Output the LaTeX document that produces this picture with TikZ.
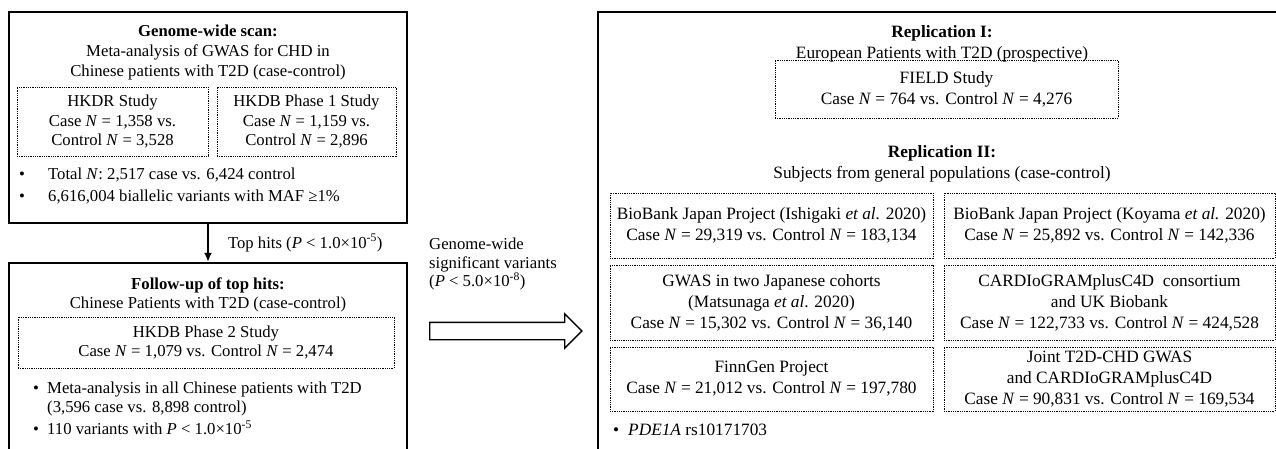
\documentclass[tikz,border=0pt]{standalone}
\usepackage{fontspec}
\setmainfont{Liberation Serif}
\usetikzlibrary{arrows.meta}
\usetikzlibrary{shapes,shapes.arrows}

\begin{document}
\begin{tikzpicture}
  [x=1pt,y=-1pt,
  outerbox/.style={draw=black,line width=2.4pt,inner sep=0pt},
  dotbox/.style={draw=black,line width=0.9pt,dash pattern=on 0.9pt off 0.9pt,inner sep=0pt},
  lefttext/.style={font=\fontsize{16.7}{19.7}\selectfont,align=center,inner sep=0pt},
  righttext/.style={font=\fontsize{17.3}{21}\selectfont,align=center,inner sep=0pt},
  bulletline/.style={anchor=west,inner sep=0pt,align=left}]
  \useasboundingbox (0,0) rectangle (1276,449);

  % left: genome-wide scan
  \node[outerbox,minimum width=398,minimum height=211] (scan) at (208,117.5) {};
  \node[lefttext] (t11) at (208,52.5) {\textbf{Genome-wide scan:}\\Meta-analysis of GWAS for CHD in\\Chinese patients with T2D (case-control)};
  \node[dotbox,lefttext,minimum width=191,minimum height=69] (hkdr) at (112.5,121.5) {HKDR Study\\Case \textit{N} = 1,358 vs.\\Control \textit{N} = 3,528};
  \node[dotbox,lefttext,minimum width=179,minimum height=69] (hkdb1) at (306.5,121.5) {HKDB Phase 1 Study\\Case \textit{N} = 1,159 vs.\\Control \textit{N} = 2,896};
  \node[lefttext,bulletline] (b11) at (19,175) {\makebox[29pt][l]{•}Total \textit{N}: 2,517 case vs. 6,424 control};
  \node[lefttext,bulletline] (b12) at (19,197) {\makebox[29pt][l]{•}6,616,004 biallelic variants with MAF ≥1\%};

  % left: follow-up
  \node[outerbox,minimum width=398,minimum height=207] (follow) at (208,366.5) {};
  \node[lefttext] (t21) at (208,295) {\textbf{Follow-up of top hits:}\\Chinese Patients with T2D (case-control)};
  \node[dotbox,lefttext,minimum width=376,minimum height=51] (hkdb2) at (206,342.5) {HKDB Phase 2 Study\\Case \textit{N} = 1,079 vs. Control \textit{N} = 2,474};
  \node[lefttext,bulletline] (b21) at (33,399) {\makebox[14pt][l]{•}Meta-analysis in all Chinese patients with T2D\\\hspace*{14pt}(3,596 case vs. 8,898 control)};
  \node[lefttext,bulletline] (b22) at (33,428) {\makebox[14pt][l]{•}110 variants with \textit{P} < 1.0×10\textsuperscript{-5}};

  \draw[-{Latex[length=9pt,width=8pt]},line width=2pt] (scan.south) -- node[lefttext,right=19pt] {Top hits (\textit{P} < 1.0×10\textsuperscript{-5})} (follow.north);

  % middle
  \node[lefttext,align=left,anchor=west,font=\fontsize{16.7}{18.5}\selectfont] (sig) at (429,264) {Genome-wide\\significant variants\\(\textit{P} < 5.0×10\textsuperscript{-8})};
  \node[draw,single arrow,line width=1.3pt,minimum height=152pt,inner xsep=0pt,inner ysep=8pt,single arrow head extend=8.5pt] (bigarrow) at (501.5,331) {};

  % right: replication
  \node[outerbox,minimum width=692,minimum height=458] (repl) at (944,241) {};
  \node[righttext] (t31) at (942,44) {\textbf{Replication I:}\\European Patients with T2D (prospective)};
  \node[dotbox,righttext,minimum width=343,minimum height=58] (field) at (946.5,89) {FIELD Study\\Case \textit{N} = 764 vs. Control \textit{N} = 4,276};
  \node[righttext] (t32) at (942,163.5) {\textbf{Replication II:}\\Subjects from general populations (case-control)};

  \node[dotbox,righttext,minimum width=323,minimum height=65] (bbj1) at (771.5,225.5) {BioBank Japan Project (Ishigaki \textit{et al.} 2020)\\Case \textit{N} = 29,319 vs. Control \textit{N} = 183,134};
  \node[dotbox,righttext,minimum width=331,minimum height=65] (bbj2) at (1109.5,225.5) {BioBank Japan Project (Koyama \textit{et al.} 2020)\\Case \textit{N} = 25,892 vs. Control \textit{N} = 142,336};
  \node[dotbox,righttext,minimum width=323,minimum height=75] (jpn) at (771.5,302.5) {GWAS in two Japanese cohorts\\(Matsunaga \textit{et al}. 2020)\\Case \textit{N} = 15,302 vs. Control \textit{N} = 36,140};
  \node[dotbox,righttext,minimum width=331,minimum height=75] (cardio) at (1109.5,302.5) {CARDIoGRAMplusC4D\ \ consortium\\and UK Biobank\\Case \textit{N} = 122,733 vs. Control \textit{N} = 424,528};
  \node[dotbox,righttext,minimum width=323,minimum height=64] (finn) at (771.5,379) {FinnGen Project\\Case \textit{N} = 21,012 vs. Control \textit{N} = 197,780};
  \node[dotbox,righttext,minimum width=331,minimum height=64] (joint) at (1109.5,379) {Joint T2D-CHD GWAS\\and CARDIoGRAMplusC4D\\Case \textit{N} = 90,831 vs. Control \textit{N} = 169,534};
  \node[righttext,bulletline] (b31) at (613,430) {\makebox[15pt][l]{•}\textit{PDE1A} rs10171703};
\end{tikzpicture}
\end{document}
